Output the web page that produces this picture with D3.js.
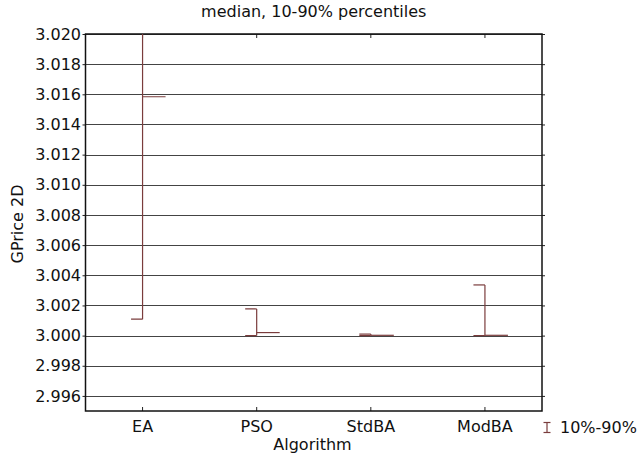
<!DOCTYPE html>
<html>
<head>
<meta charset="utf-8">
<script src="https://cdn.jsdelivr.net/npm/d3@7"></script>
<style>
  body { margin: 0; background: #fff; }
  text { font-family: "DejaVu Sans", "Liberation Sans", Arial, sans-serif; }
</style>
</head>
<body>
<div id="chart"></div>
<script>
// data
const algorithms = ["EA", "PSO", "StdBA", "ModBA"];
const p10 = [3.00109, 3.00000, 3.00000, 3.00000];
const p90 = [3.0250, 3.00177, 3.00010, 3.00336];
const medians = [3.01584, 3.00020, 3.00002, 3.00002];
const yTicks = [2.996, 2.998, 3.000, 3.002, 3.004, 3.006, 3.008, 3.010, 3.012, 3.014, 3.016, 3.018, 3.020];

const width = 642, height = 455;
const plotLeft = 85.5, plotRight = 542, plotTop = 34, plotBottom = 411;
const lineColor = "#7a3c3c";
const fontFamily = '"DejaVu Sans", "Liberation Sans", Arial, sans-serif';

const svg = d3.select("#chart").append("svg")
  .attr("width", width)
  .attr("height", height);

const x = d3.scaleBand()
  .domain(algorithms)
  .range([plotLeft, plotRight]);

const y = d3.scaleLinear()
  .domain([2.995, 3.020])
  .range([plotBottom, plotTop]);

svg.append("clipPath").attr("id", "plotclip")
  .append("rect")
  .attr("x", plotLeft).attr("y", plotTop)
  .attr("width", plotRight - plotLeft).attr("height", plotBottom - plotTop);

// grid lines
svg.append("g")
  .selectAll("line")
  .data(yTicks)
  .enter().append("line")
  .attr("x1", plotLeft).attr("x2", plotRight)
  .attr("y1", d => Math.round(y(d)) + 0.5)
  .attr("y2", d => Math.round(y(d)) + 0.5)
  .attr("stroke", "#444")
  .attr("stroke-width", 1);

// y axes, left and right (ticks outward)
const yAxisL = svg.append("g")
  .attr("transform", `translate(${plotLeft},0)`)
  .call(d3.axisLeft(y).tickValues(yTicks).tickFormat(d3.format(".3f")).tickSize(3).tickPadding(1.5));
const yAxisR = svg.append("g")
  .attr("transform", `translate(${plotRight},0)`)
  .call(d3.axisRight(y).tickValues(yTicks).tickFormat("").tickSize(3));

// x axes, bottom and top (ticks inward)
const xAxisB = svg.append("g")
  .attr("transform", `translate(0,${plotBottom})`)
  .call(d3.axisBottom(x).tickSize(-4).tickPadding(10));
const xAxisT = svg.append("g")
  .attr("transform", `translate(0,${plotTop})`)
  .call(d3.axisTop(x).tickSize(-4).tickFormat(""));

[yAxisL, yAxisR, xAxisB, xAxisT].forEach(a => {
  a.select(".domain").remove();
  a.selectAll("line").attr("stroke", "#222");
  a.selectAll("text").attr("font-size", 16).attr("fill", "#111")
    .style("font-family", fontFamily);
});

// frame
svg.append("rect")
  .attr("x", plotLeft).attr("y", plotTop)
  .attr("width", plotRight - plotLeft).attr("height", plotBottom - plotTop)
  .attr("fill", "none")
  .attr("stroke", "#111")
  .attr("stroke-width", 1.5);

// percentile bars
const marks = svg.append("g").attr("clip-path", "url(#plotclip)");
algorithms.forEach((a, i) => {
  const cx = x(a) + x.bandwidth() / 2;
  const g = marks.append("g").attr("stroke", lineColor).attr("stroke-width", 1.2).attr("fill", "none");
  g.append("line").attr("x1", cx).attr("x2", cx).attr("y1", y(p10[i])).attr("y2", y(p90[i]));
  g.append("line").attr("x1", cx - 11.5).attr("x2", cx).attr("y1", y(p10[i])).attr("y2", y(p10[i]));
  g.append("line").attr("x1", cx - 11.5).attr("x2", cx).attr("y1", y(p90[i])).attr("y2", y(p90[i]));
  g.append("line").attr("x1", cx).attr("x2", cx + 23).attr("y1", y(medians[i])).attr("y2", y(medians[i]));
});

// title and labels
svg.append("text")
  .attr("x", (plotLeft + plotRight) / 2).attr("y", 17)
  .attr("text-anchor", "middle").attr("font-size", 16).attr("fill", "#111")
  .text("median, 10-90% percentiles");

svg.append("text")
  .attr("x", 312.5).attr("y", 450)
  .attr("text-anchor", "middle").attr("font-size", 16).attr("fill", "#111")
  .text("Algorithm");

svg.append("text")
  .attr("transform", `translate(23,224) rotate(-90)`)
  .attr("text-anchor", "middle").attr("font-size", 16).attr("fill", "#111")
  .text("GPrice 2D");

// legend
const lg = svg.append("g").attr("transform", "translate(547,427.5)")
  .attr("stroke", lineColor).attr("stroke-width", 1.2);
lg.append("line").attr("x1", 0).attr("x2", 0).attr("y1", -5).attr("y2", 5);
lg.append("line").attr("x1", -3.5).attr("x2", 3.5).attr("y1", -5).attr("y2", -5);
lg.append("line").attr("x1", -3.5).attr("x2", 3.5).attr("y1", 5).attr("y2", 5);
svg.append("text")
  .attr("x", 560).attr("y", 433)
  .attr("font-size", 16).attr("fill", "#111")
  .text("10%-90%");
</script>
</body>
</html>
